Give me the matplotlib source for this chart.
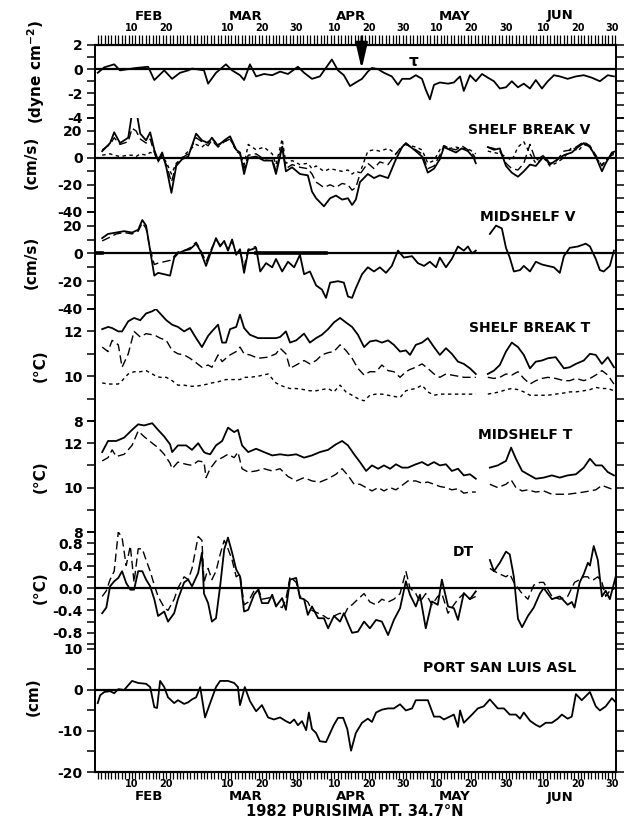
import numpy as np
import matplotlib.pyplot as plt
from matplotlib import transforms

plt.rcParams['font.family'] = ['DejaVu Sans']
plt.rcParams['font.weight'] = 'bold'
plt.rcParams['mathtext.fontset'] = 'custom'
plt.rcParams['mathtext.rm'] = 'DejaVu Sans:bold'
plt.rcParams['mathtext.default'] = 'rm'

nan = np.nan

# ---- day of year 1982 ----
# wind stress (dyne cm-2)
tau_day = [31, 32.9, 35.8, 37.5, 42.2, 45.7, 47.5, 50.4, 52.7, 55.0, 57.4, 58.5, 62.0, 63.2, 65.5,
           68.4, 70.2, 72.5, 73.7, 75.4, 77.2, 79.5, 81.9, 84.2, 86.5, 89.4, 91.2, 93.5, 95.8, 99.3,
           101.1, 102.8, 104.6, 106.3, 108.1, 109.8, 111.0, 112.8, 114.5, 116.8, 118.6, 119.8, 122.1,
           123.8, 125.6, 126.7, 127.9, 129.1, 130.8, 133.2, 134.9, 136.7, 137.8, 139.6, 141.3, 143.1,
           144.8, 146.6, 148.3, 150.1, 151.8, 153.6, 155.3, 157.1, 158.8, 160.6, 162.3, 164.1, 165.8,
           168.1, 170.5, 172.8, 175.1, 177.5, 179.8, 181.6]
tau_val = [-0.3, 0.15, 0.4, -0.1, 0.1, 0.2, -0.9, -0.1, -0.8, -0.3, -0.1, 0.05, -0.1, -1.2, -0.3,
           0.4, -0.1, -0.5, -0.9, 0.4, -0.6, -0.4, -0.5, -0.2, -0.4, 0.2, -0.3, -0.8, -0.6, 0.8,
           -0.1, -0.5, -1.4, -1.1, -0.8, -0.2, 0.1, 0.0, -0.3, -0.6, -1.3, -0.8, -0.8,
           -0.5, -0.8, -1.7, -2.5, -1.3, -1.1, -1.2, -1.1, -0.6, -1.8, -0.5, -1.0, -0.4,
           -0.7, -1.0, -1.6, -1.5, -1.0, -1.5, -1.2, -1.6, -0.9, -1.6, -1.0, -0.5, -0.6,
           -0.8, -0.6, -0.5, -0.7, -1.0, -0.5, -0.6]

# shelf break alongshore velocity (cm/s), three depths
sbv_day = [32.3, 34.6, 35.8, 37.5, 39.9, 41.0, 42.2, 43.4, 45.1, 46.3, 47.5, 48.6, 49.8, 51.0, 52.5,
           53.9, 55.6, 57.4, 59.7, 61.4, 63.2, 64.3, 66.1, 67.9, 69.6, 71.4, 72.5, 73.7, 74.9, 77.2,
           79.5, 81.9, 83.0, 84.8, 85.9, 87.7, 90.0, 92.3, 93.5, 94.7, 97.0, 98.8, 100.5, 102.3, 104.0,
           105.2, 106.3, 107.5, 109.8, 111.6, 113.3, 115.7, 118.0, 119.8, 120.9, 123.8, 125.6, 127.3,
           129.1, 130.8, 132.0, 133.7, 135.5, 137.2, 139.0, 140.7, 141.3, 143.0, 144.8, 146.6, 148.3,
           150.1, 151.8, 153.6, 155.3, 157.1, 158.8, 161.1, 162.9, 164.6, 167.0, 169.3, 171.1, 172.8,
           174.6, 176.3, 178.1, 179.2, 181.0, 182.1]
sbv_upper = [2, 3, 2, 1, 2, 2, 1, 3, 2, 4, 3, -1, 1, -3, -12,
             -4, 0, 5, 10, 8, 12, 14, 10, 12, 14, 5, 3, -5, 10, 6,
             8, 3, -5, 14, -4, -2, -5, -4, -8, -6, -10, -8, -9, -10, -9,
             -12, -10, -11, 5, 6, 5, 7, 3, 8, 10, 8, 6, -4,
             -2, 6, 9, 7, 8, 7, 7, 4, 3, nan, 5, 4, 3,
             1, -2, 8, 12, 3, -4, 0, -6, -4, 0, 8, 5, 10,
             8, 0, -5, -2, 3, 4]
sbv_mid = [6, 10, 15, 10, 12, 22, 20, 14, 11, 14, 4, -3, 2, -5, -18,
           -5, 0, 3, 15, 12, 9, 13, 8, 12, 14, 6, 3, -8, 2, 3,
           -1, 0, -10, 10, -8, -5, -7, -8, -12, -18, -22, -20, -22, -19, -20,
           -24, -22, -12, -4, -8, -3, -5, 3, 9, 10, 6, 3, -8,
           -6, 2, 9, 7, 6, 9, 6, 2, -1, nan, 8, 7, 5,
           -4, -8, -9, -4, 10, -2, 2, -4, -3, 5, 6, 9, 12,
           9, 2, -6, -2, 2, 3]
sbv_low = [5, 11, 19, 11, 15, 33, 36, 18, 13, 19, 6, -2, 4, -7, -26,
           -6, -1, 1, 18, 13, 11, 15, 9, 13, 16, 6, 4, -12, 0, 1,
           -2, -2, -12, 8, -10, -7, -12, -13, -25, -30, -36, -30, -28, -31, -30,
           -35, -31, -18, -12, -15, -13, -15, -1, 8, 11, 5, 1, -11,
           -8, -1, 8, 6, 4, 7, 5, 0, -4, nan, 8, 6, 7,
           -6, -11, -14, -10, -5, -6, 1, -5, -2, 2, 4, 8, 11,
           8, 1, -10, -4, 4, 5]

# midshelf alongshore velocity (cm/s)
msv_day = [32.3, 34.0, 36.4, 38.7, 41.0, 42.8, 44.0, 45.1, 46.3, 47.5, 48.6, 50.4, 52.1, 53.3, 54.4,
           56.2, 57.9, 59.7, 60.9, 62.6, 64.3, 65.5, 66.7, 67.9, 69.0, 70.2, 71.4, 72.5, 73.7, 74.9,
           77.2, 78.4, 80.1, 81.9, 83.0, 84.8, 86.5, 88.3, 90.0, 91.2, 92.9, 94.7, 96.4, 97.6, 98.8,
           101.1, 102.8, 104.0, 105.2, 106.3, 108.1, 109.8, 111.6, 113.3, 115.1, 116.8, 118.6, 120.3,
           122.7, 124.4, 126.2, 127.9, 129.7, 130.8, 132.6, 134.3, 136.1, 137.8, 139.0, 140.2, 141.3,
           143.0, 145.4, 147.2, 148.9, 150.1, 151.2, 152.4, 154.2, 155.3, 157.1, 158.8, 160.6, 162.3,
           164.1, 165.8, 167.0, 168.7, 171.1, 173.4, 174.6, 176.3, 177.5, 178.6, 180.4, 181.6]
msv_a = [11, 14, 15, 16, 15, 17, 24, 20, 2, -16, -14, -15, -16, -3, 0,
         2, 3, 7, 2, -9, 3, 11, 5, 9, 2, 10, -1, 3, -14, 2,
         4, -13, -7, -10, -4, -13, -6, -10, -1, -15, -13, -23, -26, -32, -21,
         -20, -21, -31, -32, -25, -15, -10, -13, -10, -14, -9, 2, -3,
         -2, -7, -9, -6, -10, -3, -10, -4, 5, 2, 5, 0, 2,
         nan, 14, 20, 18, 4, -3, -13, -12, -9, -13, -6, -8, -9,
         -10, -14, -2, 4, 5, 7, 5, -4, -12, -13, -9, 2]
msv_b_day = [32.3, 34.0, 36.4, 38.7, 41.0, 42.8, 44.0, 45.1, 46.3, 47.5, 48.6, 50.4, 52.1, 53.3, 54.4,
             56.2, 57.9, 59.7, 60.9, 62.6, 64.3, 65.5, 66.7, 67.9, 69.0, 70.2, 71.4, 72.5, 73.7, 74.9, 77.2]
msv_b = [9, 11, 14, 15, 14, 16, 22, 18, 3, -8, -7, -6, -5, -2, 1,
         2, 4, 8, 3, -6, 4, 10, 6, 8, 3, 9, 0, 2, -10, 3, 5]
msv_b_end = 97.5   # deep midshelf meter idle (zero) from here back to the start

# shelf break temperature (deg C)
sbt_day = [32.3, 34.0, 35.2, 37.0, 38.1, 39.9, 41.6, 43.4, 45.1, 46.9, 48.0, 49.2, 51.0, 52.7, 54.4,
           56.2, 57.9, 59.7, 61.4, 63.2, 64.3, 66.1, 67.3, 68.4, 69.6, 71.4, 72.5, 73.7, 75.4, 77.8,
           80.7, 83.0, 84.2, 85.9, 87.1, 88.9, 91.2, 92.9, 94.7, 96.4, 98.2, 99.9, 101.7, 103.4, 105.2,
           106.9, 108.7, 110.4, 112.2, 113.9, 115.7, 117.4, 119.2, 120.9, 122.1, 123.8, 125.6, 127.3,
           129.1, 130.8, 132.6, 134.3, 136.1, 137.8, 139.6, 141.3, 143.0, 144.8, 146.6, 148.3, 150.1,
           151.8, 153.6, 155.3, 157.1, 158.8, 160.6, 162.3, 164.6, 167.0, 168.7, 170.5, 172.8, 174.6,
           176.3, 178.1, 179.8, 181.6]
sbt_a = [12.1, 12.2, 12.15, 12.0, 12.0, 12.45, 12.6, 12.5, 12.8, 12.9, 13.0, 12.8, 12.5, 12.3, 12.2,
         12.0, 12.15, 11.7, 11.3, 11.8, 12.0, 12.3, 11.5, 11.5, 12.1, 12.2, 12.75, 12.15, 11.85, 11.7,
         11.7, 11.7, 11.75, 12.0, 11.5, 11.6, 11.9, 11.5, 11.7, 11.85, 12.1, 12.4, 12.6, 12.4, 12.2,
         11.85, 11.3, 11.55, 11.6, 11.5, 11.6, 11.4, 11.1, 11.15, 10.95, 11.4, 11.5, 11.7,
         11.3, 10.95, 11.25, 11.0, 10.65, 10.55, 10.35, 10.1, nan, 10.1, 10.25, 10.5, 11.1,
         11.5, 11.3, 10.95, 10.35, 10.65, 10.7, 10.8, 10.85, 10.35, 10.4, 10.55, 10.7, 11.0,
         10.95, 10.55, 10.85, 10.4]
sbt_b = [11.3, 11.1, 11.6, 11.4, 10.4, 11.0, 12.0, 11.75, 11.9, 11.85, 11.8, 11.7, 11.6, 11.15, 11.0,
         10.95, 10.8, 10.6, 10.4, 10.5, 10.4, 10.95, 10.65, 10.8, 10.95, 11.1, 11.3, 11.0, 10.95, 10.8,
         10.85, 11.0, 11.25, 11.0, 10.35, 10.5, 10.7, 10.55, 10.7, 10.95, 11.05, 11.1, 11.4, 11.15, 10.8,
         10.35, 10.05, 10.2, 10.2, 10.5, 10.25, 10.2, 9.95, 10.2, 10.3, 10.4, 10.55, 10.35,
         10.1, 9.95, 10.1, 10.05, 10.0, 9.95, 9.95, 9.95, nan, 9.95, 9.9, 9.95, 10.1,
         10.05, 10.2, 9.9, 9.65, 9.8, 9.9, 9.95, 9.9, 9.8, 9.8, 9.9, 9.8, 9.9,
         10.05, 10.25, 10.05, 9.65]
sbt_c = [9.7, 9.65, 9.65, 9.65, 9.8, 10.1, 10.2, 10.2, 10.25, 10.1, 10.0, 9.95, 9.95, 9.8, 9.6,
         9.6, 9.55, 9.55, 9.6, 9.65, 9.7, 9.75, 9.8, 9.85, 9.85, 9.85, 9.85, 9.95, 9.95, 10.0,
         10.1, 9.7, 9.6, 9.5, 9.45, 9.45, 9.4, 9.35, 9.35, 9.4, 9.45, 9.3, 9.6, 9.3, 9.15,
         9.0, 8.9, 9.15, 9.2, 9.2, 9.15, 9.1, 9.05, 9.35, 9.4, 9.45, 9.6, 9.3,
         9.15, 9.2, 9.2, 9.2, 9.2, 9.2, 9.2, 9.2, nan, 9.2, 9.25, 9.3, 9.4,
         9.45, 9.4, 9.3, 9.15, 9.15, 9.15, 9.15, 9.2, 9.25, 9.3, 9.3, 9.35, 9.4,
         9.5, 9.45, 9.45, 9.35]

# midshelf temperature (deg C)
mst_day = [32.3, 34.0, 35.2, 36.4, 38.7, 41.0, 42.8, 44.5, 46.9, 48.6, 50.4, 52.1, 52.7, 54.4, 56.8,
           58.5, 60.3, 62.0, 62.6, 63.8, 65.5, 67.3, 69.0, 70.8, 71.9, 73.1, 74.9, 77.2, 79.5, 81.9,
           84.2, 86.5, 88.9, 91.2, 93.5, 95.8, 98.2, 100.5, 102.3, 104.0, 105.8, 107.5, 109.3, 111.0,
           112.8, 114.5, 116.3, 118.0, 119.8, 121.5, 123.8, 125.6, 127.3, 129.1, 130.8, 132.6, 134.3,
           136.1, 137.8, 139.6, 141.3, 143.0, 145.4, 147.7, 150.1, 151.6, 153.0, 154.8, 156.5, 158.8,
           161.1, 163.5, 165.8, 168.1, 170.5, 172.8, 174.6, 176.3, 178.1, 179.8, 181.6]
mst_a = [11.6, 12.1, 12.1, 12.1, 12.25, 12.6, 12.85, 12.8, 12.9, 12.6, 12.3, 11.95, 11.6, 11.9, 11.9,
         11.7, 12.0, 11.6, 11.55, 11.5, 11.9, 12.1, 12.7, 12.5, 12.6, 11.9, 11.6, 11.75, 11.6, 11.45,
         11.5, 11.45, 11.5, 11.35, 11.45, 11.6, 11.7, 11.95, 12.1, 11.9, 11.5, 11.15, 10.75, 11.0,
         10.85, 11.0, 10.85, 11.05, 10.9, 10.9, 11.05, 11.15, 11.0, 11.15, 11.0, 11.05, 10.75,
         10.85, 10.55, 10.6, 10.4, nan, 10.9, 11.0, 11.2, 11.8, 11.3, 10.75, 10.6, 10.4,
         10.45, 10.55, 10.45, 10.55, 10.6, 10.9, 11.3, 11.0, 11.0, 10.7, 10.55]
mst_b = [11.2, 11.35, 11.7, 11.4, 11.5, 11.9, 12.55, 12.3, 12.0, 11.8, 11.5, 11.1, 10.85, 11.15, 11.05,
         11.0, 11.2, 11.15, 10.45, 10.85, 11.2, 11.35, 11.5, 11.35, 11.6, 10.85, 10.7, 10.75, 10.85, 10.75,
         10.85, 10.5, 10.3, 10.45, 10.3, 10.25, 10.4, 10.6, 10.85, 10.55, 10.15, 10.15, 10.0, 9.85,
         10.0, 9.85, 10.0, 9.9, 10.1, 10.3, 10.3, 10.2, 10.25, 10.15, 10.05, 10.0, 9.9,
         9.95, 9.75, 9.8, 9.8, nan, 10.15, 10.0, 10.15, 10.35, 10.0, 9.85, 9.9, 9.8,
         9.85, 9.7, 9.7, 9.7, 9.75, 9.8, 9.85, 9.9, 10.1, 10.0, 9.9]

# top-bottom temperature difference (deg C)
dt_day = [32.3, 33.5, 34.6, 35.8, 37.0, 38.1, 39.3, 40.5, 41.6, 42.8, 44.0, 45.1, 46.3, 47.5, 48.6,
          50.4, 51.5, 53.3, 54.4, 56.2, 57.4, 58.5, 60.3, 61.4, 62.0, 63.2, 64.3, 65.5, 66.7, 67.9,
          69.0, 70.2, 71.4, 72.5, 73.7, 74.9, 76.6, 77.8, 78.9, 80.7, 81.9, 83.0, 84.8, 85.9, 87.1,
          88.9, 90.0, 91.2, 92.3, 93.5, 95.3, 97.0, 98.2, 99.9, 101.7, 102.8, 104.0, 105.2, 106.9,
          108.7, 110.4, 112.2, 113.9, 115.7, 117.4, 119.2, 120.9, 122.1, 123.8, 125.0, 126.7, 128.5,
          130.2, 131.4, 133.2, 134.9, 136.1, 137.8, 139.6, 141.3, 143.0, 145.4, 146.6, 148.3, 150.1,
          151.2, 152.4, 153.6, 154.8, 156.5, 158.2, 160.0, 161.1, 163.5, 165.8, 168.1, 169.3, 170.1,
          171.6, 172.8, 174.0, 174.6, 175.7, 176.9, 178.1, 179.2, 180.4, 182.1]
dt_a = [-0.45, -0.35, 0.03, 0.12, 0.18, 0.3, 0.09, -0.03, -0.03, 0.3, 0.3, 0.15, 0.03, -0.2, -0.5,
        -0.42, -0.6, -0.45, -0.2, 0.1, 0.15, 0.03, 0.27, 0.63, -0.1, -0.27, -0.6, -0.54, 0.03, 0.69,
        0.9, 0.63, 0.33, 0.21, -0.42, -0.39, -0.12, -0.03, -0.27, -0.27, -0.12, -0.33, -0.18, -0.39, 0.15,
        0.18, -0.18, -0.2, -0.48, -0.33, -0.54, -0.54, -0.72, -0.5, -0.6, -0.45, -0.63, -0.8, -0.78,
        -0.6, -0.72, -0.57, -0.6, -0.84, -0.57, -0.36, 0.12, -0.12, -0.33, -0.12, -0.72, -0.24,
        -0.3, 0.15, -0.33, -0.36, -0.57, -0.09, -0.2, -0.06, nan, 0.5, 0.3, 0.45, 0.65,
        0.6, 0.2, -0.55, -0.7, -0.5, -0.35, -0.1, 0.0, -0.2, -0.15, -0.3, -0.25, -0.35,
        0.1, 0.25, 0.45, 0.4, 0.75, 0.5, -0.15, -0.05, -0.2, 0.2]
dt_b = [-0.15, -0.05, 0.15, 0.3, 1.0, 0.9, 0.4, 0.75, 0.1, 0.7, 0.7, 0.5, 0.3, 0.05, -0.15,
        -0.35, -0.4, -0.2, 0.0, 0.2, 0.15, 0.35, 0.92, 0.85, 0.1, 0.35, 0.15, 0.3, 0.6, 0.85,
        0.7, 0.5, 0.2, 0.25, -0.3, -0.25, -0.05, 0.0, -0.2, -0.18, -0.15, -0.3, -0.35, -0.2, 0.2,
        0.1, -0.15, -0.2, -0.25, -0.4, -0.45, -0.5, -0.55, -0.5, -0.45, -0.5, -0.35, -0.3, -0.2,
        -0.1, -0.25, -0.3, -0.2, -0.25, -0.2, -0.1, 0.3, 0.0, -0.1, -0.25, -0.1, -0.3,
        -0.15, -0.1, -0.45, -0.3, -0.2, -0.1, -0.2, -0.15, nan, 0.35, 0.3, 0.25, 0.2,
        0.25, 0.1, 0.0, -0.1, -0.2, 0.05, 0.1, 0.1, -0.15, -0.2, -0.15, 0.0, 0.1,
        0.15, 0.2, 0.2, 0.15, 0.15, 0.2, 0.1, -0.15, -0.05, 0.0]

# Port San Luis adjusted sea level (cm)
asl_day = [31.0, 31.7, 32.9, 34.6, 35.8, 37.0, 38.7, 41.0, 42.8, 45.1, 46.3, 47.5, 48.3, 49.2, 50.4,
           51.5, 53.3, 54.4, 56.2, 57.4, 58.5, 59.7, 60.9, 62.3, 63.8, 65.5, 66.7, 69.0, 70.8, 71.9,
           72.5, 73.9, 75.4, 77.2, 78.9, 80.7, 82.4, 84.2, 85.9, 87.1, 88.3, 89.4, 90.6, 91.8, 92.6,
           93.5, 94.7, 95.8, 97.6, 98.8, 99.9, 101.1, 102.6, 103.8, 104.9, 106.3, 108.1, 109.8, 111.0,
           112.2, 113.9, 115.7, 117.4, 119.2, 120.9, 122.7, 123.8, 127.3, 129.1, 130.8, 132.0, 133.7,
           134.9, 136.1, 136.7, 137.8, 140.2, 141.9, 143.6, 145.4, 147.7, 149.5, 151.2, 153.0, 154.2,
           155.3, 157.1, 158.8, 160.0, 161.7, 163.5, 165.2, 166.4, 168.1, 169.3, 170.5, 172.2, 174.6,
           176.3, 177.5, 179.2, 181.0, 182.1]
asl_val = [-3.2, -1.3, -0.5, -0.3, -0.8, 0.2, 0.0, 2.2, 1.7, 1.5, 0.7, -4.2, -4.4, 2.2, 0.7,
           -1.8, -3.2, -2.5, -3.4, -3.0, -2.3, -1.8, 0.7, -6.7, -3.2, 0.7, 2.2, 2.2, 1.7, 0.7,
           -3.7, 0.7, -2.7, -5.2, -3.7, -6.7, -7.2, -6.7, -7.6, -8.1, -7.2, -8.6, -7.6, -9.8, -5.5,
           -9.5, -10.5, -12.5, -12.7, -10.5, -8.5, -6.8, -6.8, -9.5, -14.8, -10.5, -8.0, -7.0, -7.8,
           -5.5, -4.8, -4.5, -4.5, -3.5, -5.0, -4.5, -2.5, -2.5, -6.5, -6.5, -7.2, -6.5,
           -6.0, -9.0, -5.0, -8.0, -6.0, -4.5, -4.0, -2.3, -4.5, -4.5, -6.0, -6.0, -7.0,
           -5.5, -7.5, -8.5, -9.0, -8.0, -8.0, -7.0, -6.0, -7.0, -6.5, -1.0, -2.5, -0.5,
           -4.0, -5.0, -4.0, -2.0, -3.0]

# axis annotation
day_ticks = [41, 51, 69, 79, 89, 100, 110, 120, 130, 140, 150, 161, 171, 181]
day_labels = ['10', '20', '10', '20', '30', '10', '20', '30', '10', '20', '30', '10', '20', '30']
month_mid = [46, 74, 105, 135, 166]
month_names = ['FEB', 'MAR', 'APR', 'MAY', 'JUN']

W, H = 629, 824
X0, X1 = 95, 616
XLIM = (30.2, 182.2)
fig = plt.figure(figsize=(W / 100, H / 100), dpi=100)


def panel(top, bot, ylim, ticks, labels, minor):
    ax = fig.add_axes([X0 / W, 1 - bot / H, (X1 - X0) / W, (bot - top) / H])
    ax.set_xlim(*XLIM)
    ax.set_ylim(*ylim)
    ax.set_yticks(ticks, labels)
    ax.set_yticks(minor, minor=True)
    ax.tick_params(axis='y', which='both', direction='out', length=6, width=1.1,
                   right=True, labelsize=10, pad=3)
    ax.tick_params(axis='x', which='both', bottom=False, top=False,
                   labelbottom=False, labeltop=False)
    for s in ('top', 'bottom'):
        ax.spines[s].set_visible(False)
    for s in ('left', 'right'):
        ax.spines[s].set_linewidth(1.4)
    ax.patch.set_alpha(0)
    return ax


def px(x, y):
    return x / W, 1 - y / H


ax_tau = panel(45, 117.5, (-4, 2), [2, 0, -2, -4], ['2', '0', '-2', '-4'], np.arange(-4, 3, 1))
ax_sbv = panel(117.5, 211.7, (-40, 30), [20, 0, -20, -40], ['20', '0', '-20', '-40'],
               np.arange(-40, 31, 10))
ax_msv = panel(211.7, 309, (-40, 30), [20, 0, -20, -40], ['20', '0', '-20', '-40'],
               np.arange(-40, 31, 10))
ax_sbt = panel(309, 421, (8, 13), [12, 10, 8], ['12', '10', '8'], np.arange(8, 14, 1))
ax_mst = panel(421, 532, (8, 13), [12, 10, 8], ['12', '10', '8'], np.arange(8, 14, 1))
ax_dt = panel(532, 644, (-1.0, 1.0), [0.8, 0.4, 0.0, -0.4, -0.8],
              ['0.8', '0.4', '0.0', '-0.4', '-0.8'], np.round(np.arange(-1.0, 1.01, 0.2), 1))
ax_asl = panel(644, 772, (-20, 11.2), [10, 0, -10, -20], ['10', '0', '-10', '-20'],
               np.arange(-20, 11, 5))

for ax in (ax_tau, ax_sbv, ax_msv, ax_dt, ax_asl):
    ax.axhline(0, color='k', lw=1.6, zorder=1)

solid = dict(color='k', lw=1.3)
longd = dict(color='k', lw=1.0, dashes=(6, 3))
shortd = dict(color='k', lw=1.0, dashes=(2.5, 2.5))

ax_tau.plot(tau_day, tau_val, **solid)
ax_sbv.plot(sbv_day, sbv_upper, **shortd)
ax_sbv.plot(sbv_day, sbv_mid, **longd)
ax_sbv.plot(sbv_day, sbv_low, **solid)
ax_msv.plot([msv_b_day[-1], msv_b_end], [0, 0], color='k', lw=2.6, zorder=1)
ax_msv.plot([XLIM[0], msv_b_day[0]], [0, 0], color='k', lw=2.6, zorder=1)
ax_msv.plot(msv_b_day, msv_b, **longd)
ax_msv.plot(msv_day, msv_a, **solid)
ax_sbt.plot(sbt_day, sbt_c, **shortd)
ax_sbt.plot(sbt_day, sbt_b, **longd)
ax_sbt.plot(sbt_day, sbt_a, **solid)
ax_mst.plot(mst_day, mst_b, **longd)
ax_mst.plot(mst_day, mst_a, **solid)
ax_dt.plot(dt_day, dt_b, **longd)
ax_dt.plot(dt_day, dt_a, **solid)
ax_asl.plot(asl_day, asl_val, **solid)

# storm onset arrow
ax_tau.annotate('', xy=(108, 0), xytext=(108, 2.7),
                arrowprops=dict(arrowstyle='-|>,head_width=0.3,head_length=1.3',
                                color='k', lw=1.8, shrinkA=0, shrinkB=0, mutation_scale=12),
                annotation_clip=False)

# date axes on top and bottom of the stack
for ax, side in ((ax_tau, 'top'), (ax_asl, 'bottom')):
    ax.spines[side].set_visible(True)
    ax.spines[side].set_linewidth(1.6)
    ax.set_xticks(day_ticks, day_labels)
    ax.set_xticks(np.arange(31, 183), minor=True)
    on = side == 'top'
    ax.tick_params(axis='x', which='both', direction='out', length=7 if on else 5, width=0.9,
                   top=on, bottom=not on, labeltop=on, labelbottom=not on,
                   labelsize=7, pad=1.5 if on else 0.3)

tr = transforms.blended_transform_factory(ax_tau.transData, fig.transFigure)
for d, m in zip(month_mid, month_names):
    fig.text(d, 1 - 16 / H, m, transform=tr, ha='center', va='center', fontsize=9.5)
    fig.text(d, 1 - 797 / H, m, transform=tr, ha='center', va='center', fontsize=9.5)

fig.text(*px(355, 812), '1982 PURISIMA PT. 34.7°N', ha='center', va='center', fontsize=10.5)

# series names
fig.text(*px(413, 61), 'τ', ha='center', va='center', fontsize=11)
fig.text(*px(590, 130), 'SHELF BREAK V', ha='right', va='center', fontsize=10)
fig.text(*px(576, 217), 'MIDSHELF V', ha='right', va='center', fontsize=10)
fig.text(*px(590, 328), 'SHELF BREAK T', ha='right', va='center', fontsize=10)
fig.text(*px(572, 435), 'MIDSHELF T', ha='right', va='center', fontsize=10)
fig.text(*px(463, 552), 'DT', ha='center', va='center', fontsize=10)
fig.text(*px(576, 668), 'PORT SAN LUIS ASL', ha='right', va='center', fontsize=10)

# unit labels
for (x, y), s in [((36, 72), '(dyne cm$^{-2}$)'), ((31, 162), '(cm/s)'), ((31, 262), '(cm/s)'),
                  ((40, 366), '(°C)'), ((40, 477), '(°C)'), ((40, 588), '(°C)'),
                  ((33, 697), '(cm)')]:
    fig.text(*px(x, y), s, rotation=90, ha='center', va='center', fontsize=11)

fig.savefig('out.png', dpi=100)
